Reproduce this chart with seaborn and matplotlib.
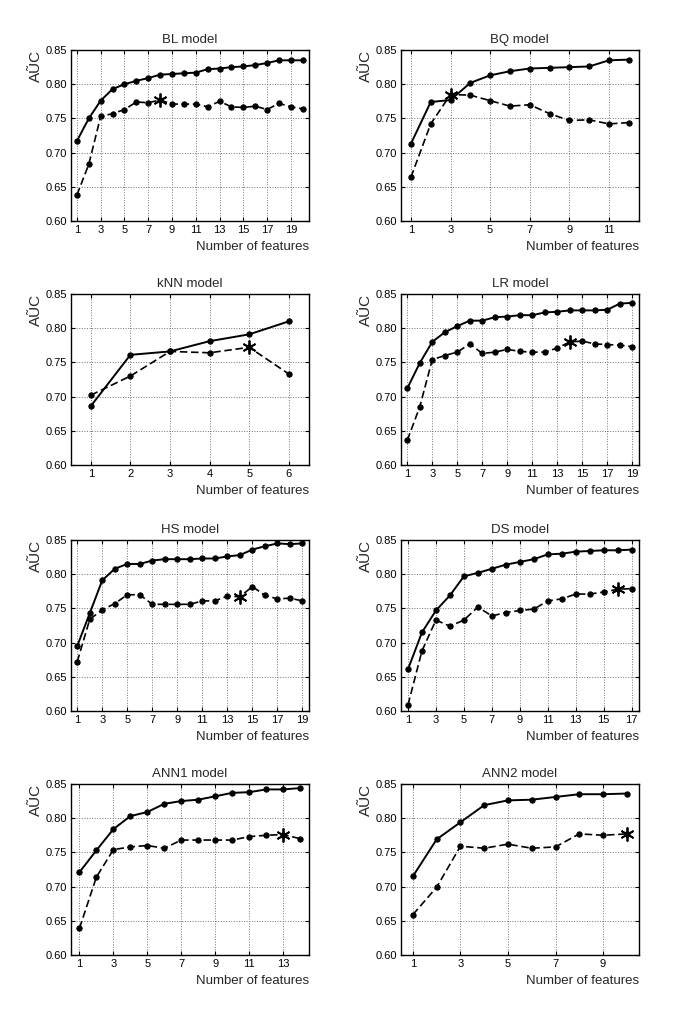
import numpy as np
import seaborn as sns
import matplotlib.pyplot as plt

# AUC vs number of features, solid = upper curve, dashed = lower curve,
# star = marked point on the dashed curve
bl_solid = [0.717, 0.750, 0.776, 0.793, 0.800, 0.805, 0.809, 0.814, 0.815, 0.816,
            0.817, 0.822, 0.823, 0.825, 0.826, 0.828, 0.831, 0.835, 0.835, 0.835]
bl_dashed = [0.638, 0.683, 0.753, 0.757, 0.763, 0.774, 0.773, 0.777, 0.771, 0.771,
             0.771, 0.767, 0.775, 0.767, 0.766, 0.768, 0.763, 0.772, 0.767, 0.764]
bl_star = 8

bq_solid = [0.713, 0.774, 0.777, 0.802, 0.813, 0.819, 0.823, 0.824, 0.825, 0.826, 0.835, 0.836]
bq_dashed = [0.664, 0.742, 0.785, 0.784, 0.776, 0.768, 0.770, 0.757, 0.747, 0.748, 0.742, 0.744]
bq_star = 3

knn_solid = [0.686, 0.761, 0.766, 0.781, 0.791, 0.810]
knn_dashed = [0.702, 0.730, 0.766, 0.764, 0.772, 0.733]
knn_star = 5

lr_solid = [0.712, 0.749, 0.780, 0.794, 0.803, 0.811, 0.811, 0.816, 0.817, 0.819,
            0.819, 0.823, 0.824, 0.826, 0.826, 0.826, 0.827, 0.836, 0.837]
lr_dashed = [0.636, 0.685, 0.754, 0.760, 0.765, 0.777, 0.763, 0.765, 0.769, 0.766,
             0.765, 0.765, 0.771, 0.780, 0.781, 0.777, 0.776, 0.775, 0.773]
lr_star = 14

hs_solid = [0.695, 0.743, 0.791, 0.808, 0.815, 0.815, 0.820, 0.822, 0.822, 0.822,
            0.823, 0.823, 0.826, 0.828, 0.836, 0.841, 0.845, 0.844, 0.845]
hs_dashed = [0.672, 0.734, 0.748, 0.757, 0.770, 0.770, 0.756, 0.756, 0.756, 0.756,
             0.761, 0.761, 0.768, 0.767, 0.782, 0.769, 0.764, 0.765, 0.761]
hs_star = 14

ds_solid = [0.661, 0.715, 0.747, 0.769, 0.797, 0.802, 0.808, 0.814, 0.818, 0.822,
            0.829, 0.830, 0.833, 0.834, 0.835, 0.835, 0.836]
ds_dashed = [0.609, 0.688, 0.733, 0.724, 0.733, 0.752, 0.739, 0.744, 0.747, 0.749,
             0.761, 0.764, 0.771, 0.771, 0.774, 0.778, 0.779]
ds_star = 16

ann1_solid = [0.721, 0.753, 0.784, 0.803, 0.809, 0.821, 0.825, 0.827, 0.832, 0.837,
              0.838, 0.842, 0.842, 0.844]
ann1_dashed = [0.639, 0.714, 0.754, 0.758, 0.760, 0.756, 0.768, 0.768, 0.768, 0.768,
               0.773, 0.775, 0.776, 0.770]
ann1_star = 13

ann2_solid = [0.715, 0.769, 0.794, 0.819, 0.826, 0.827, 0.831, 0.835, 0.835, 0.836]
ann2_dashed = [0.659, 0.699, 0.759, 0.756, 0.762, 0.756, 0.758, 0.777, 0.775, 0.777]
ann2_star = 10

titles = ["BL model", "BQ model", "kNN model", "LR model",
          "HS model", "DS model", "ANN1 model", "ANN2 model"]
solids = [bl_solid, bq_solid, knn_solid, lr_solid, hs_solid, ds_solid, ann1_solid, ann2_solid]
dasheds = [bl_dashed, bq_dashed, knn_dashed, lr_dashed, hs_dashed, ds_dashed, ann1_dashed, ann2_dashed]
stars = [bl_star, bq_star, knn_star, lr_star, hs_star, ds_star, ann1_star, ann2_star]
y_ticks = [0.60, 0.65, 0.70, 0.75, 0.80, 0.85]

sns.set_style("ticks")
plt.rcParams['font.family'] = ['Liberation Sans', 'DejaVu Sans']

fig = plt.figure(figsize=(6.85, 10.13), dpi=100)

# axes boxes (left, bottom, width, height) in figure fractions
col_left = [0.1036, 0.5854]
row_bottom = [0.7818, 0.5410, 0.2981, 0.0573]
w, h = 0.347, 0.1688

for i, title in enumerate(titles):
    ax = fig.add_axes([col_left[i % 2], row_bottom[i // 2], w, h])
    solid = solids[i]
    dashed = dasheds[i]
    n = len(solid)
    x = np.arange(1, n + 1)

    sns.lineplot(x=x, y=solid, ax=ax, color='k', linewidth=1.4, marker='o',
                 markersize=3.8, markeredgecolor='k', linestyle='-')
    sns.lineplot(x=x, y=dashed, ax=ax, color='k', linewidth=1.2, marker='o',
                 markersize=3.8, markeredgecolor='k', linestyle=(0, (4.5, 2.2)))
    s = stars[i]
    ax.plot([s], [dashed[s - 1]], marker=(6, 2, 0), color='k', markersize=10,
            markeredgewidth=1.3, linestyle='none')

    ax.set_xlim(0.5, n + 0.5)
    ax.set_ylim(0.60, 0.85)
    if n <= 6:
        ax.set_xticks(x)
    else:
        ax.set_xticks(np.arange(1, n + 1, 2))
    ax.set_yticks(y_ticks)
    ax.set_yticklabels([f"{v:.2f}" for v in y_ticks])
    ax.grid(True, linestyle=':', color='0.45', linewidth=0.7)
    ax.tick_params(direction='in', length=3, width=0.8, labelsize=8,
                   top=True, right=True, colors='k', pad=3)
    for sp in ax.spines.values():
        sp.set_linewidth(1.0)
        sp.set_color('k')

    ax.set_title(title, fontsize=9.5, pad=5)
    ax.set_xlabel("Number of features", fontsize=9.5, loc='right', labelpad=4.5)
    ax.set_ylabel("A\u0168C", fontsize=11, loc='top', labelpad=2)

fig.savefig("out.png", dpi=100, facecolor='white')
